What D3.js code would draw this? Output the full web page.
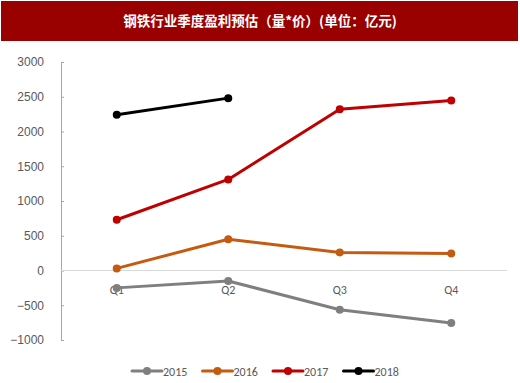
<!DOCTYPE html>
<html>
<head>
<meta charset="utf-8">
<script src="https://cdn.jsdelivr.net/npm/d3@7"></script>
<style>
body { margin: 0; background: #fff; }
svg { display: block; font-family: Calibri, "Liberation Sans", "Noto Sans", sans-serif; }
</style>
</head>
<body>
<script>
var width = 520, height = 383;

// data
var quarters = ['Q1', 'Q2', 'Q3', 'Q4'];
var years = ['2015', '2016', '2017', '2018'];
var v2015 = [-250, -150, -565, -755];
var v2016 = [30, 450, 260, 245];
var v2017 = [730, 1310, 2320, 2445];
var v2018 = [2240, 2480];
var yTicks = [-1000, -500, 0, 500, 1000, 1500, 2000, 2500, 3000];
var colors = ['#7f7f7f', '#c55a11', '#c00000', '#000000'];
var title = '钢铁行业季度盈利预估（量*价）(单位：亿元)';

var series = [v2015, v2016, v2017, v2018];

var svg = d3.select('body').append('svg').attr('width', width).attr('height', height);

// title band
svg.append('rect')
	.attr('x', 1).attr('y', 1)
	.attr('width', 517).attr('height', 40)
	.attr('fill', '#990000');
svg.append('text')
	.attr('x', 260).attr('y', 26)
	.attr('text-anchor', 'middle')
	.attr('fill', '#fff')
	.style('font-family', '"Noto Sans CJK SC", sans-serif')
	.style('font-weight', 'bold')
	.style('font-size', '13.5px')
	.text(title);

// scales
var xScale = d3.scaleBand().domain(quarters).range([61, 507]);
var yScale = d3.scaleLinear().domain([-1000, 3000]).range([340, 62]);

// y axis
var yAxis = svg.append('g')
	.attr('transform', 'translate(61,0)')
	.call(d3.axisLeft(yScale).tickValues(yTicks).tickFormat(d3.format('d')).tickSize(0).tickPadding(17));
yAxis.select('.domain').attr('stroke', '#a6a6a6').attr('stroke-width', 1);
yAxis.selectAll('.tick text').attr('fill', '#595959').style('font-size', '12px');
yAxis.selectAll('.tick').append('line')
	.attr('x1', 0).attr('x2', 3)
	.attr('stroke', '#a6a6a6');

// zero line
svg.append('line')
	.attr('x1', 61).attr('x2', 507)
	.attr('y1', yScale(0)).attr('y2', yScale(0))
	.attr('stroke', '#d9d9d9').attr('stroke-width', 1);

// category labels
svg.append('g').selectAll('text').data(quarters)
	.enter().append('text')
	.attr('x', d => xScale(d) + xScale.bandwidth()/2)
	.attr('y', yScale(0) + 23)
	.attr('text-anchor', 'middle')
	.attr('fill', '#595959')
	.style('font-size', '12px')
	.text(d => d);

// lines + markers
var line = d3.line()
	.x((d, i) => xScale(quarters[i]) + xScale.bandwidth()/2)
	.y(d => yScale(d));

series.forEach(function(s, k) {
	var g = svg.append('g').attr('class', 'series');
	g.append('path')
		.attr('d', line(s))
		.attr('fill', 'none')
		.attr('stroke', colors[k])
		.attr('stroke-width', 3)
		.attr('stroke-linejoin', 'round');
	g.selectAll('circle').data(s)
		.enter().append('circle')
		.attr('cx', (d, i) => xScale(quarters[i]) + xScale.bandwidth()/2)
		.attr('cy', d => yScale(d))
		.attr('r', 4)
		.attr('fill', colors[k]);
});

// legend
var legend = svg.append('g').attr('transform', 'translate(132,371)');
var item = legend.selectAll('g').data(years)
	.enter().append('g')
	.attr('transform', (d, i) => 'translate(' + (i*70.5) + ',0)');
item.append('line')
	.attr('x1', 0).attr('x2', 30)
	.attr('stroke', (d, i) => colors[i])
	.attr('stroke-width', 3)
	.attr('stroke-linecap', 'round');
item.append('circle')
	.attr('cx', 15).attr('r', 4)
	.attr('fill', (d, i) => colors[i]);
item.append('text')
	.attr('x', 31).attr('y', 4.5)
	.attr('fill', '#595959')
	.style('font-size', '12px')
	.text(d => d);
</script>
</body>
</html>
